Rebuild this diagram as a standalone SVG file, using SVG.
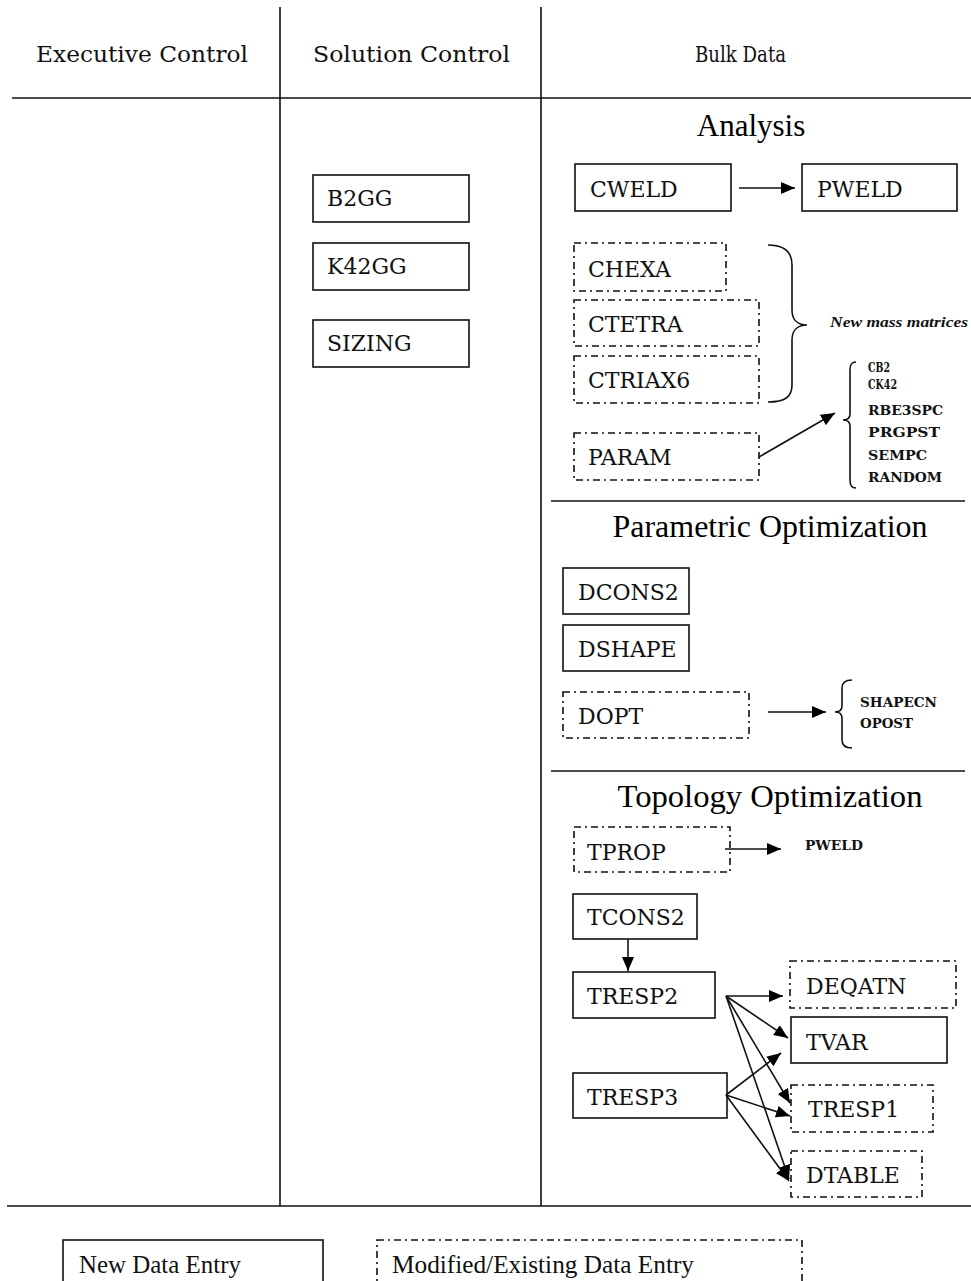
<svg xmlns="http://www.w3.org/2000/svg" width="971" height="1281" viewBox="0 0 971 1281">
  <style>
    .line { stroke: #111; stroke-width: 1.6; fill: none; }
    .box { fill: #fff; stroke: #111; stroke-width: 1.6; }
    .mod { fill: #fff; stroke: #111; stroke-width: 1.6; stroke-dasharray: 7 4 2 4; }
    .hdr { font-family: "DejaVu Serif", "Liberation Serif", serif; font-size: 22px; fill: #111; }
    .lbl { font-family: "DejaVu Serif", "Liberation Serif", serif; font-size: 22px; fill: #111; }
    .sec { font-family: "Liberation Serif", "Times New Roman", serif; font-size: 31px; fill: #000; }
    .sm { font-family: "DejaVu Serif", "Liberation Serif", serif; font-size: 13px; font-weight: bold; fill: #111; }
    .note { font-family: "Liberation Serif", "Times New Roman", serif; font-size: 15px; font-style: italic; font-weight: bold; fill: #111; }
    .leg { font-family: "Liberation Serif", "Times New Roman", serif; font-size: 25px; fill: #111; }
    .brace { stroke: #111; stroke-width: 1.6; fill: none; }
  </style>
  <defs>
    <marker id="arrow" markerUnits="userSpaceOnUse" markerWidth="15" markerHeight="12" refX="14" refY="6" orient="auto">
      <path d="M0,0 L14,6 L0,12 z" fill="#000"/>
    </marker>
  </defs>

  <rect width="971" height="1281" fill="#fff"/>

  <!-- table frame -->
  <g id="frame">
    <line class="line" x1="280" y1="7" x2="280" y2="1206"/>
    <line class="line" x1="541" y1="7" x2="541" y2="1206"/>
    <line class="line" x1="12" y1="98" x2="971" y2="98"/>
    <line class="line" x1="7" y1="1206" x2="971" y2="1206"/>
    <line class="line" x1="551" y1="501" x2="965" y2="501"/>
    <line class="line" x1="551" y1="771" x2="965" y2="771"/>
  </g>

  <!-- column headings -->
  <g id="headings">
    <text class="hdr" x="36" y="62" textLength="212" lengthAdjust="spacingAndGlyphs">Executive Control</text>
    <text class="hdr" x="313" y="62" textLength="197" lengthAdjust="spacingAndGlyphs">Solution Control</text>
    <text class="hdr" x="695" y="62" textLength="91" lengthAdjust="spacingAndGlyphs">Bulk Data</text>
  </g>

  <!-- section titles -->
  <g id="sections">
    <text class="sec" x="751" y="136" text-anchor="middle">Analysis</text>
    <text class="sec" x="770" y="537" text-anchor="middle" textLength="315" lengthAdjust="spacingAndGlyphs">Parametric Optimization</text>
    <text class="sec" x="770" y="807" text-anchor="middle" textLength="305" lengthAdjust="spacingAndGlyphs">Topology Optimization</text>
  </g>

  <!-- solution control entries -->
  <g id="B2GG"><rect class="box" x="313" y="175" width="156" height="47"/><text class="lbl" x="327" y="206">B2GG</text></g>
  <g id="K42GG"><rect class="box" x="313" y="243" width="156" height="47"/><text class="lbl" x="327" y="274">K42GG</text></g>
  <g id="SIZING"><rect class="box" x="313" y="320" width="156" height="47"/><text class="lbl" x="327" y="351">SIZING</text></g>

  <!-- analysis entries -->
  <g id="CWELD"><rect class="box" x="575" y="164" width="156" height="47"/><text class="lbl" x="590" y="197">CWELD</text></g>
  <g id="PWELD"><rect class="box" x="802" y="164" width="155" height="47"/><text class="lbl" x="817" y="197">PWELD</text></g>
  <g id="CHEXA"><rect class="mod" x="574" y="243" width="152" height="48"/><text class="lbl" x="588" y="277">CHEXA</text></g>
  <g id="CTETRA"><rect class="mod" x="574" y="300" width="185" height="46"/><text class="lbl" x="588" y="332">CTETRA</text></g>
  <g id="CTRIAX6"><rect class="mod" x="574" y="356" width="185" height="47"/><text class="lbl" x="588" y="388">CTRIAX6</text></g>
  <g id="PARAM"><rect class="mod" x="574" y="433" width="185" height="47"/><text class="lbl" x="588" y="465">PARAM</text></g>

  <g id="mass-note">
    <path class="brace" d="M768,245 C785,245 792,252 792,265 L792,310 C792,320 798,325 807,325 C798,325 792,330 792,340 L792,385 C792,397 785,402 768,402"/>
    <text class="note" x="830" y="327" textLength="138" lengthAdjust="spacingAndGlyphs">New mass matrices</text>
  </g>

  <g id="param-list">
    <path class="brace" d="M856,362 C851,362 850,365 850,370 L850,414 C850,418 847,420 843,420 C847,420 850,422 850,426 L850,480 C850,485 851,488 856,488"/>
    <text class="sm" x="868" y="372" textLength="22" lengthAdjust="spacingAndGlyphs">CB2</text>
    <text class="sm" x="868" y="389" textLength="29" lengthAdjust="spacingAndGlyphs">CK42</text>
    <text class="sm" x="868" y="415" textLength="75" lengthAdjust="spacingAndGlyphs">RBE3SPC</text>
    <text class="sm" x="868" y="437" textLength="72" lengthAdjust="spacingAndGlyphs">PRGPST</text>
    <text class="sm" x="868" y="460" textLength="59" lengthAdjust="spacingAndGlyphs">SEMPC</text>
    <text class="sm" x="868" y="482" textLength="74" lengthAdjust="spacingAndGlyphs">RANDOM</text>
  </g>

  <!-- parametric optimization entries -->
  <g id="DCONS2"><rect class="box" x="563" y="568" width="126" height="46"/><text class="lbl" x="578" y="600">DCONS2</text></g>
  <g id="DSHAPE"><rect class="box" x="563" y="625" width="126" height="46"/><text class="lbl" x="578" y="657">DSHAPE</text></g>
  <g id="DOPT"><rect class="mod" x="563" y="692" width="186" height="46"/><text class="lbl" x="578" y="724">DOPT</text></g>

  <g id="dopt-list">
    <path class="brace" d="M852,680 C845,680 842,683 842,688 L842,706 C842,710 839,712 835,712 C839,712 842,714 842,718 L842,740 C842,745 845,748 852,748"/>
    <text class="sm" x="860" y="707" textLength="77" lengthAdjust="spacingAndGlyphs">SHAPECN</text>
    <text class="sm" x="860" y="728" textLength="53" lengthAdjust="spacingAndGlyphs">OPOST</text>
  </g>

  <!-- topology optimization entries -->
  <g id="TPROP"><rect class="mod" x="574" y="827" width="156" height="45"/><text class="lbl" x="587" y="860">TPROP</text></g>
  <g id="tprop-target"><text class="sm" x="805" y="850" textLength="58" lengthAdjust="spacingAndGlyphs">PWELD</text></g>
  <g id="TCONS2"><rect class="box" x="573" y="894" width="124" height="45"/><text class="lbl" x="587" y="925">TCONS2</text></g>
  <g id="TRESP2"><rect class="box" x="573" y="972" width="142" height="46"/><text class="lbl" x="587" y="1004">TRESP2</text></g>
  <g id="TRESP3"><rect class="box" x="573" y="1073" width="154" height="45"/><text class="lbl" x="587" y="1105">TRESP3</text></g>
  <g id="DEQATN"><rect class="mod" x="790" y="961" width="166" height="47"/><text class="lbl" x="806" y="994">DEQATN</text></g>
  <g id="TVAR"><rect class="box" x="791" y="1017" width="156" height="46"/><text class="lbl" x="806" y="1050">TVAR</text></g>
  <g id="TRESP1"><rect class="mod" x="791" y="1085" width="142" height="47"/><text class="lbl" x="808" y="1117">TRESP1</text></g>
  <g id="DTABLE"><rect class="mod" x="791" y="1151" width="131" height="46"/><text class="lbl" x="806" y="1183">DTABLE</text></g>

  <!-- connectors -->
  <g id="connectors" class="line" marker-end="url(#arrow)">
    <line x1="739" y1="188" x2="795" y2="188"/>
    <line x1="759" y1="457" x2="835" y2="413"/>
    <line x1="768" y1="712" x2="826" y2="712"/>
    <line x1="725" y1="849" x2="781" y2="849"/>
    <line x1="628" y1="939" x2="628" y2="971"/>
    <line x1="726" y1="996" x2="783" y2="996"/>
    <line x1="726" y1="996" x2="788" y2="1038"/>
    <line x1="726" y1="996" x2="790" y2="1103"/>
    <line x1="726" y1="996" x2="789" y2="1179"/>
    <line x1="726" y1="1095" x2="781" y2="1053"/>
    <line x1="726" y1="1095" x2="790" y2="1116"/>
    <line x1="726" y1="1095" x2="789" y2="1181"/>
  </g>

  <!-- legend -->
  <g id="legend-new"><rect class="box" x="63" y="1240" width="260" height="60"/><text class="leg" x="79" y="1273" textLength="162" lengthAdjust="spacingAndGlyphs">New Data Entry</text></g>
  <g id="legend-modified"><rect class="mod" x="377" y="1240" width="425" height="60"/><text class="leg" x="392" y="1273" textLength="302" lengthAdjust="spacingAndGlyphs">Modified/Existing Data Entry</text></g>
</svg>
